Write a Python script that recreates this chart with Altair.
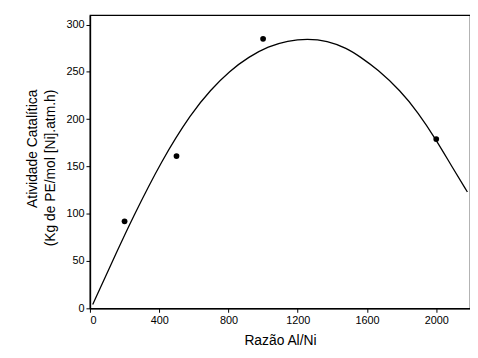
import altair as alt
import pandas as pd

# measured points
pt_x = [200, 500, 1000, 2000]
pt_y = [92, 161, 285, 179]

# fitted curve
curve_x = [16, 166, 237, 415, 588, 697, 807, 918, 1030, 1142, 1256, 1370,
           1484, 1560, 1659, 1794, 1895, 1997, 2093, 2180]
curve_y = [4, 64, 92, 157, 207, 231, 251, 266, 277, 283, 285, 283,
           275, 266, 253, 230, 207, 179, 149, 123]

x_ticks = list(range(0, 2200, 200))
y_ticks = list(range(0, 325, 25))

pts = pd.DataFrame({"x": pt_x, "y": pt_y})
crv = pd.DataFrame({"x": curve_x, "y": curve_y})

FONT = "Liberation Sans"

xscale = alt.Scale(domain=[0, 2195], nice=False, zero=False)
yscale = alt.Scale(domain=[0, 310], nice=False, zero=False)

xaxis = alt.Axis(
    values=x_ticks,
    labelExpr="datum.value % 400 == 0 ? datum.label : ''",
    format="d",
    title="Razão Al/Ni",
    grid=False,
    tickSize=4,
    labelFontSize=11,
    titleFontSize=14,
    titleFontWeight="normal",
    titlePadding=9,
)
yaxis = alt.Axis(
    values=y_ticks,
    labelExpr="datum.value % 50 == 0 ? datum.label : ''",
    format="d",
    title=["Atividade Catalítica", "(Kg de PE/mol [Ni].atm.h)"],
    grid=False,
    tickSize=4,
    labelFontSize=11,
    titleFontSize=14,
    titleFontWeight="normal",
    titleAngle=270,
    titleAlign="right",
    titleBaseline="top",
    titleX=-65,
    titleY=75,
    titleLineHeight=18,
)

line = alt.Chart(crv).mark_line(
    color="black", strokeWidth=1.3, interpolate="basis"
).encode(
    x=alt.X("x:Q", scale=xscale, axis=xaxis),
    y=alt.Y("y:Q", scale=yscale, axis=yaxis),
)

dots = alt.Chart(pts).mark_circle(color="black", size=34, opacity=1).encode(
    x=alt.X("x:Q", scale=xscale),
    y=alt.Y("y:Q", scale=yscale),
)

chart = (
    alt.layer(line, dots)
    .properties(
        width=385,
        height=297,
        autosize=alt.AutoSizeParams(type="none"),
        padding={"left": 83, "top": 5, "right": 0, "bottom": 40},
        background="white",
    )
    .configure_view(stroke="black", strokeWidth=1.2)
    .configure_axis(
        labelFont=FONT,
        titleFont=FONT,
        labelColor="black",
        titleColor="black",
        domainColor="black",
        tickColor="black",
        domainWidth=1.5,
    )
)

chart.save("out.html", embed_options={"renderer": "svg", "actions": False})
